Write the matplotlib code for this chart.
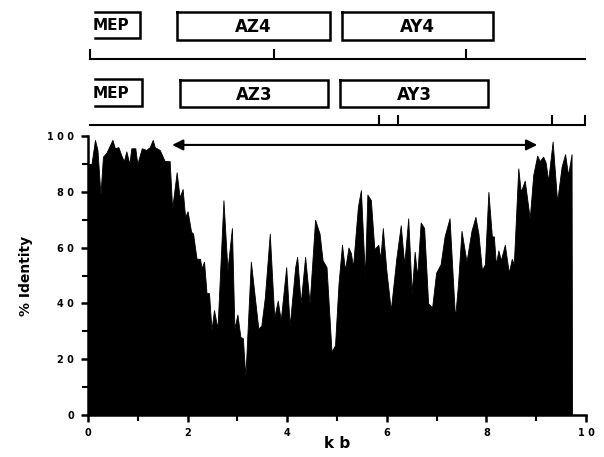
import numpy as np
import matplotlib
matplotlib.use('Agg')
import matplotlib.pyplot as plt

# identity profile (kb, % identity)
kb = [0.0, 0.07, 0.14, 0.19, 0.25, 0.30, 0.37, 0.49, 0.54, 0.61, 0.67, 0.72, 0.77,
      0.83, 0.87, 0.95, 0.99, 1.08, 1.17, 1.24, 1.30, 1.34, 1.44, 1.50, 1.54, 1.64,
      1.69, 1.78, 1.84, 1.90, 1.95, 2.00, 2.07, 2.11, 2.18, 2.25, 2.28, 2.33, 2.38,
      2.43, 2.48, 2.53, 2.60, 2.72, 2.80, 2.89, 2.94, 3.00, 3.06, 3.11, 3.16, 3.27,
      3.32, 3.42, 3.48, 3.55, 3.65, 3.74, 3.81, 3.87, 3.98, 4.05, 4.16, 4.20, 4.27,
      4.36, 4.45, 4.56, 4.65, 4.71, 4.79, 4.89, 4.96, 5.03, 5.10, 5.16, 5.23, 5.28,
      5.32, 5.42, 5.48, 5.56, 5.61, 5.68, 5.75, 5.83, 5.87, 5.92, 5.99, 6.08, 6.19,
      6.28, 6.35, 6.43, 6.50, 6.56, 6.61, 6.68, 6.75, 6.83, 6.91, 6.99, 7.08, 7.16,
      7.26, 7.37, 7.43, 7.50, 7.60, 7.70, 7.78, 7.84, 7.91, 7.97, 8.04, 8.11, 8.15,
      8.19, 8.24, 8.29, 8.37, 8.45, 8.51, 8.55, 8.64, 8.69, 8.77, 8.87, 8.94, 9.02,
      9.07, 9.14, 9.19, 9.24, 9.33, 9.42, 9.51, 9.58, 9.64, 9.71, 9.72]
identity = [90, 90, 98.6, 95, 79, 92.6, 94, 98.6, 95.6, 96, 93, 91, 94.5,
            90, 95.6, 95.6, 90, 95.6, 95, 96, 98.6, 96, 95, 92.6, 91, 91,
            74, 87, 78, 81, 71, 73, 65.7, 65, 56, 56, 52.6, 55, 43.7,
            43.7, 30.5, 37.6, 31, 77, 52, 67, 31, 36, 28, 27.5, 13.7, 55,
            47, 31, 32, 42, 65, 35, 41, 34, 53, 32, 53, 56.7, 40,
            56.7, 40, 70, 65, 55.5, 53, 22.7, 25, 47, 61, 52, 60, 58,
            53, 74.7, 80.6, 49.6, 79, 77, 59.5, 61, 56, 67, 52, 37.6, 56,
            68, 54, 70.5, 43.7, 58.5, 49.6, 69, 67, 40, 38.6, 51, 54, 64,
            70.5, 34.7, 47, 66, 55, 66, 71, 65, 52, 54, 80, 64, 64,
            54, 59, 55.5, 61, 51, 56, 54, 88.4, 80, 84, 70.5, 86, 93,
            91, 92.6, 90.5, 84, 98, 76.5, 89, 93.5, 86, 93.5, 0]

# gene map (kb)
genes_row1 = ['AZ4', 'AY4']
spans_row1 = [(1.79, 4.86), (5.10, 8.13)]
genes_row2 = ['AZ3', 'AY3']
spans_row2 = [(1.85, 4.82), (5.06, 8.03)]
mep_spans = [(0.14, 1.04), (0.14, 1.08)]
ruler1_ticks = [0.04, 3.73, 7.60, 10.02]
ruler2_ticks = [5.84, 6.22, 9.32, 9.98]
arrow_span = (1.69, 9.02)

W, H = 604, 457
fig = plt.figure(figsize=(W / 100, H / 100), dpi=100)
ax = fig.add_axes([88 / W, 1 - 415 / H, 498 / W, 279 / H])
top = fig.add_axes([88 / W, 1 - 134 / H, 498 / W, 134 / H])

ax.fill_between(kb, identity, 0, color='black', lw=0.6, edgecolor='black')
ax.set_xlim(0, 10)
ax.set_ylim(0, 100)
ax.spines['top'].set_visible(False)
ax.spines['right'].set_visible(False)
ax.spines['left'].set_linewidth(1.8)
ax.spines['bottom'].set_linewidth(1.8)
ax.set_xticks(range(0, 11, 2))
ax.set_xticks(range(1, 11, 2), minor=True)
ax.set_yticks(range(0, 101, 20))
ax.set_yticks(range(10, 100, 20), minor=True)
ax.set_xticklabels([' '.join(str(v)) for v in range(0, 11, 2)])
ax.set_yticklabels([' '.join(str(v)) for v in range(0, 101, 20)])
ax.tick_params(which='major', length=5, width=1.8, labelsize=7, pad=5)
ax.tick_params(axis='x', which='major', pad=4)
ax.tick_params(which='minor', length=4, width=1.5)
for t in ax.get_xticklabels() + ax.get_yticklabels():
    t.set_fontweight('bold')
ax.set_ylabel('% Identity', fontsize=10, fontweight='bold', labelpad=10)
ax.set_xlabel('k b', fontsize=11, fontweight='bold', labelpad=-1)

ax.annotate('', xy=(arrow_span[0], 96.8), xytext=(arrow_span[1], 96.8),
            arrowprops=dict(arrowstyle='<|-|>', color='black', lw=1.5,
                            mutation_scale=16, shrinkA=0, shrinkB=0))

# gene map on top, y in pixels from the top of the figure
top.set_xlim(0, 10)
top.set_ylim(134, 0)
top.axis('off')

def box(x0, x1, y0, y1, label):
    top.plot([x0, x1, x1, x0, x0], [y0, y0, y1, y1, y0], color='black', lw=1.8,
             solid_joinstyle='miter')
    top.text((x0 + x1) / 2, (y0 + y1) / 2 + 1, label, ha='center', va='center',
             fontsize=12, fontweight='bold')

def mep(x0, x1, y0, y1):
    top.plot([x0, x1, x1, x0], [y0, y0, y1, y1], color='black', lw=1.8,
             solid_joinstyle='miter')
    top.text(x0 - 0.05, (y0 + y1) / 2 + 1, 'MEP', ha='left', va='center',
             fontsize=11, fontweight='bold')

mep(mep_spans[0][0], mep_spans[0][1], 12, 38)
for g, (a, b) in zip(genes_row1, spans_row1):
    box(a, b, 12, 40, g)
mep(mep_spans[1][0], mep_spans[1][1], 79, 106)
for g, (a, b) in zip(genes_row2, spans_row2):
    box(a, b, 80, 107, g)

top.plot([ruler1_ticks[0], ruler1_ticks[-1]], [59, 59], color='black', lw=1.5)
for t in ruler1_ticks:
    top.plot([t, t], [59, 50], color='black', lw=1.5)
top.plot([0.04, ruler2_ticks[-1]], [125, 125], color='black', lw=1.5)
for t in ruler2_ticks:
    top.plot([t, t], [125, 116], color='black', lw=1.5)

fig.savefig('out.png', dpi=100)
